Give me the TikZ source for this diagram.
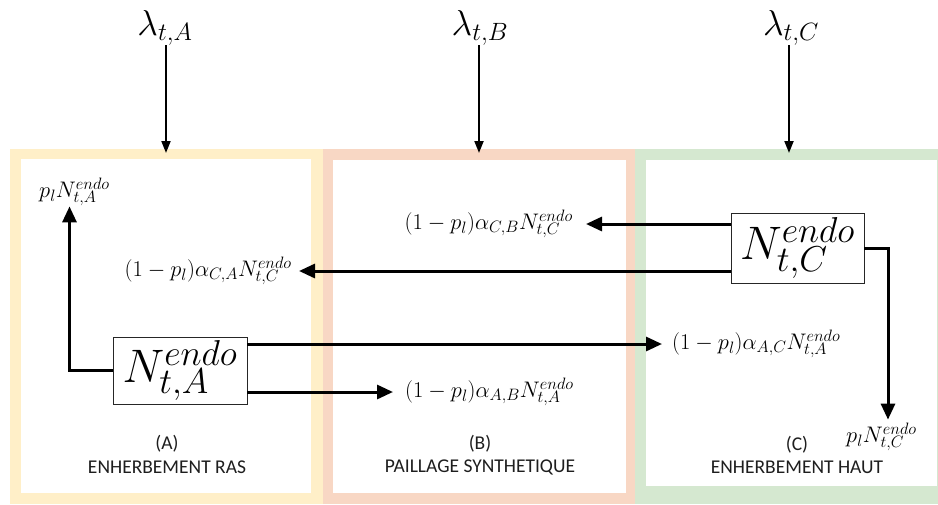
\RequirePackage{fix-cm}
\documentclass[tikz,border=0pt]{standalone}
\usepackage{fontspec}
\newfontfamily\capfont{Carlito}
\usetikzlibrary{arrows.meta,calc}

\definecolor{panelyellow}{HTML}{FFEFC8}
\definecolor{panelpink}{HTML}{F8D7C4}
\definecolor{panelgreen}{HTML}{D5E8D0}
\definecolor{inkgray}{HTML}{1E1E1E}

% math sizes used in the figure: text, script, scriptscript
\DeclareMathSizes{22.5}{22.5}{16.5}{12}
\DeclareMathSizes{36}{36}{25}{18}
\DeclareMathSizes{47}{47}{36}{27}

\tikzset{
  x=1pt, y=-1pt,
  stockbox/.style={draw=black!85, line width=0.9pt, fill=white, inner sep=0pt,
    minimum width=134pt, minimum height=67pt,
    font=\fontsize{47}{52}\selectfont},
  flowlbl/.style={inner sep=0pt, font=\fontsize{22.5}{26}\selectfont},
  lamlbl/.style={inner sep=0pt, anchor=base, font=\fontsize{36}{40}\selectfont},
  caption/.style={align=center, inner sep=0pt, text=inkgray,
    font=\capfont\fontsize{19.5}{23.5}\selectfont},
  flow/.style={line width=3pt, -{Triangle[length=16pt,width=14pt]}},
  inflow/.style={line width=2pt, -{Triangle[length=12pt,width=9pt]}},
}

\begin{document}
\begin{tikzpicture}
\useasboundingbox (0,0) rectangle (938,504);
\clip (0,0) rectangle (938,504);

% coloured frames of the three plots
\fill[panelyellow] (10,149) rectangle (323,504);
\fill[white] (21,159) rectangle (311,493);
\fill[panelpink] (323,149) rectangle (635,504);
\fill[white] (333,160) rectangle (626,493);
\fill[panelgreen] (635,149) rectangle (950,504);
\fill[white] (646,160) rectangle (937,486);

% incoming rates
\node[lamlbl] (lamA) at (165,35) {$\lambda_{t,A}$};
\node[lamlbl] (lamB) at (480,35) {$\lambda_{t,B}$};
\node[lamlbl] (lamC) at (791,35) {$\lambda_{t,C}$};
\coordinate (inA) at (166,153);
\coordinate (inB) at (479,153);
\coordinate (inC) at (789,153);
\draw[inflow] (lamA.south -| inA) -- (inA);
\draw[inflow] (lamB.south -| inB) -- (inB);
\draw[inflow] (lamC.south -| inC) -- (inC);

% stocks
\node[stockbox] (NA) at (180,370.5) {$N^{endo}_{t,A}$};
\node[stockbox, minimum width=133pt, minimum height=70pt] (NC) at (797.5,248) {$N^{endo}_{t,C}$};

% outflow labels
\node[flowlbl] (pA) at (74.5,192) {$p_l N^{endo}_{t,A}$};
\node[flowlbl, anchor=east] (CAl) at (292,271) {$(1-p_l)\alpha_{C,A}N^{endo}_{t,C}$};
\node[flowlbl, anchor=east] (CBl) at (573,224) {$(1-p_l)\alpha_{C,B}N^{endo}_{t,C}$};
\node[flowlbl, anchor=west] (ACl) at (672,344) {$(1-p_l)\alpha_{A,C}N^{endo}_{t,A}$};
\node[flowlbl, anchor=west] (ABl) at (405,392) {$(1-p_l)\alpha_{A,B}N^{endo}_{t,A}$};
\node[flowlbl] (pC) at (881.5,437) {$p_l N^{endo}_{t,C}$};

% flows leaving A
\draw[flow] (NA.west) -| ([xshift=-5pt]pA.south);
\draw[flow, shorten >=10pt] (NA.east |- ACl.west) -- (ACl.west);
\draw[flow, shorten >=12pt] (NA.east |- ABl.west) -- (ABl.west);

% flows leaving C
\draw[flow, shorten >=13pt] (NC.west |- CBl.east) -- (CBl.east);
\draw[flow, shorten >=7pt] (NC.west |- CAl.east) -- (CAl.east);
\draw[flow, shorten >=3pt] (NC.east) -| ([xshift=6.5pt]pC.north);

% plot captions
\node[caption] (capA) at (167,454.5) {(A)\\ENHERBEMENT RAS};
\node[caption] (capB) at (480,455) {(B)\\PAILLAGE SYNTHETIQUE};
\node[caption] (capC) at (797,455) {(C)\\ENHERBEMENT HAUT};
\end{tikzpicture}
\end{document}
